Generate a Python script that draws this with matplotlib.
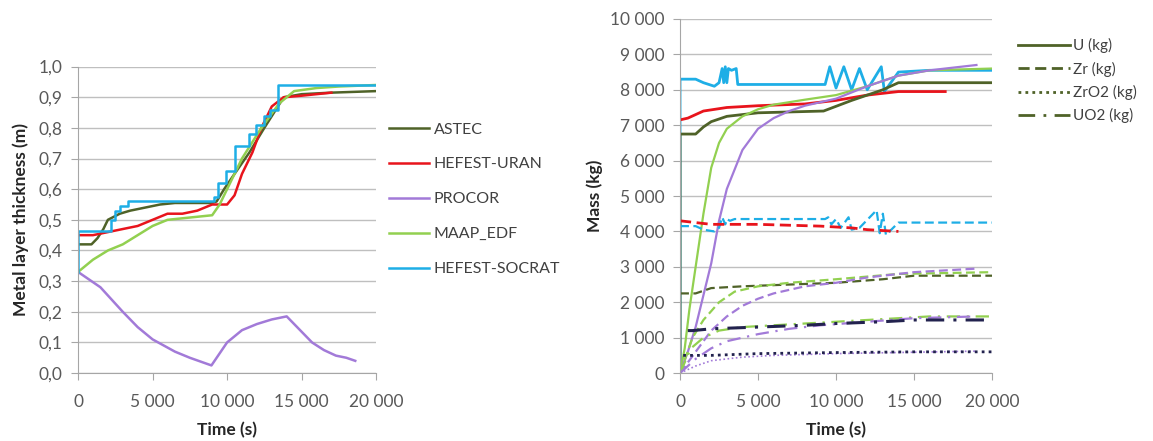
import matplotlib.pyplot as plt
from matplotlib.lines import Line2D
from matplotlib.ticker import FuncFormatter, MultipleLocator

plt.rcParams['font.family'] = ['Lato', 'DejaVu Sans']

# couleurs des codes
codes = ['ASTEC', 'HEFEST-URAN', 'PROCOR', 'MAAP_EDF', 'HEFEST-SOCRAT']
colors = {'ASTEC': '#4F6228', 'HEFEST-URAN': '#E8141C', 'PROCOR': '#A27AD8',
          'MAAP_EDF': '#92D050', 'HEFEST-SOCRAT': '#1EAEE6'}
navy = '#22224E'

# --- épaisseur de la couche métallique (m) ---
astec_t = [0, 900, 1300, 1700, 2000, 2400, 2800, 3500, 4500, 5500, 6500, 9000, 9300, 9800,
           10500, 11500, 12500, 13800, 15000, 17000, 20000]
astec_h = [0.42, 0.42, 0.44, 0.47, 0.50, 0.51, 0.52, 0.53, 0.54, 0.55, 0.555, 0.555, 0.56, 0.60,
           0.65, 0.72, 0.80, 0.90, 0.91, 0.915, 0.92]
uran_t = [0, 1000, 2000, 3000, 4000, 5000, 6000, 7000, 8000, 9000, 10000, 10500, 11000, 11700,
          12300, 13000, 13800, 15000, 16000, 17000]
uran_h = [0.45, 0.45, 0.46, 0.47, 0.48, 0.50, 0.52, 0.52, 0.53, 0.55, 0.55, 0.58, 0.65, 0.72,
          0.80, 0.87, 0.90, 0.905, 0.91, 0.915]
procor_t = [0, 1500, 3000, 4000, 5000, 6500, 7500, 8950, 10000, 11000, 12000, 13000, 14000,
            15000, 15700, 16500, 17300, 18000, 18600]
procor_h = [0.33, 0.28, 0.20, 0.15, 0.11, 0.07, 0.05, 0.025, 0.10, 0.14, 0.16, 0.175, 0.185,
            0.135, 0.10, 0.075, 0.057, 0.05, 0.04]
maap_t = [0, 1000, 2000, 3000, 4000, 5000, 6000, 7000, 8000, 9000, 9500, 10000, 11000, 12300,
          13500, 14500, 16000, 17500, 20000]
maap_h = [0.33, 0.37, 0.40, 0.42, 0.45, 0.48, 0.50, 0.505, 0.51, 0.515, 0.55, 0.60, 0.70, 0.80,
          0.88, 0.92, 0.93, 0.935, 0.94]
socrat_t = [0, 0, 2200, 2500, 2800, 3350, 9100, 9400, 9900, 10550, 11450, 11950, 12450, 12900,
            13450, 20000]
socrat_h = [0.33, 0.465, 0.50, 0.53, 0.545, 0.56, 0.575, 0.62, 0.66, 0.74, 0.78, 0.81, 0.84,
            0.86, 0.94, 0.94]

# --- masses (kg) ---
u_socrat_t = [0, 0, 1000, 1500, 2200, 2500, 2700, 2800, 2900, 3000, 3100, 3300, 3600, 3700,
              9300, 9600, 10000, 10500, 11000, 11500, 12000, 12900, 13100, 14000, 16000, 20000]
u_socrat_m = [0, 8300, 8300, 8200, 8100, 8200, 8600, 8200, 8650, 8200, 8600, 8550, 8600, 8150,
              8150, 8650, 8050, 8650, 8000, 8600, 8000, 8650, 7950, 8500, 8550, 8550]
u_uran_t = [0, 500, 1000, 1500, 3000, 5000, 8000, 10000, 12000, 14000, 17000]
u_uran_m = [7150, 7200, 7300, 7400, 7500, 7550, 7600, 7700, 7850, 7950, 7950]
u_astec_t = [0, 0, 1000, 1500, 2000, 3000, 5000, 9200, 11000, 13000, 14000, 20000]
u_astec_m = [0, 6750, 6750, 6950, 7100, 7250, 7350, 7400, 7700, 8000, 8200, 8200]
u_maap_t = [0, 300, 600, 1000, 1500, 2000, 2500, 3000, 4000, 5000, 6000, 8000, 10000, 12000,
            14000, 16000, 20000]
u_maap_m = [0, 700, 1800, 3000, 4500, 5800, 6500, 6900, 7250, 7450, 7580, 7720, 7850, 8100,
            8400, 8550, 8600]
u_procor_t = [0, 500, 1000, 1500, 2000, 2500, 3000, 4000, 5000, 6000, 7000, 8000, 9000, 10000,
              12000, 14000, 16000, 19000]
u_procor_m = [0, 600, 1300, 2200, 3100, 4300, 5200, 6300, 6900, 7200, 7400, 7550, 7650, 7750,
              8100, 8400, 8550, 8700]

zr_socrat_t = [0, 1000, 1500, 2200, 2500, 2700, 2900, 3000, 3200, 3500, 9300, 9500, 9700, 10000,
               10300, 10800, 11000, 11500, 12600, 12800, 13000, 13200, 14000, 20000]
zr_socrat_m = [4150, 4150, 4050, 4000, 4100, 4400, 4200, 4350, 4300, 4350, 4350, 4400, 4200, 4350,
               4100, 4400, 4050, 4100, 4600, 3950, 4500, 3900, 4250, 4250]
zr_uran_t = [0, 1000, 2000, 5000, 9000, 11000, 12000, 14000]
zr_uran_m = [4300, 4250, 4200, 4200, 4150, 4100, 4050, 4000]
zr_astec_t = [0, 1000, 2000, 4000, 7000, 10000, 13000, 15000, 20000]
zr_astec_m = [2250, 2250, 2400, 2450, 2500, 2550, 2650, 2750, 2750]
zr_maap_t = [0, 800, 1500, 2500, 3500, 5000, 7000, 10000, 14000, 20000]
zr_maap_m = [0, 1000, 1500, 2000, 2300, 2450, 2550, 2650, 2800, 2850]
zr_procor_t = [0, 1000, 2000, 3000, 4000, 5000, 6000, 8000, 10000, 12000, 15000, 19000]
zr_procor_m = [0, 600, 1200, 1600, 1900, 2100, 2250, 2450, 2550, 2700, 2850, 2950]

uo2_navy_t = [500, 800, 2000, 5000, 8000, 10000, 13000, 15000, 20000]
uo2_navy_m = [1200, 1200, 1250, 1300, 1350, 1400, 1450, 1500, 1500]
uo2_maap_t = [0, 700, 1500, 2500, 4000, 8000, 12000, 16000, 20000]
uo2_maap_m = [0, 700, 1000, 1200, 1300, 1400, 1500, 1600, 1600]
uo2_procor_t = [0, 1000, 2000, 3000, 5000, 7000, 9000, 12000, 15000, 19000]
uo2_procor_m = [0, 400, 700, 900, 1100, 1250, 1350, 1450, 1550, 1600]

zro2_navy_t = [200, 2000, 5000, 10000, 15000, 20000]
zro2_navy_m = [500, 500, 550, 580, 600, 600]
zro2_procor_t = [0, 1000, 2000, 4000, 6000, 10000, 19000]
zro2_procor_m = [0, 200, 350, 450, 500, 550, 620]

dashed = (0, (4, 2))
dotted = (0, (1, 1.5))
dashdot = (0, (6, 3, 1, 3))


def space_thousands(x, pos):
    return f'{int(round(x)):,}'.replace(',', ' ')


def style_axes(ax):
    ax.spines['top'].set_visible(False)
    ax.spines['right'].set_visible(False)
    for s in ['left', 'bottom']:
        ax.spines[s].set_color('#A6A6A6')
    ax.grid(axis='y', color='#BFBFBF', linewidth=1)
    ax.set_axisbelow(True)
    ax.tick_params(axis='both', colors='#A6A6A6', labelcolor='#595959', labelsize=12.5,
                   length=5, direction='out')
    ax.tick_params(axis='x', pad=10)
    ax.tick_params(axis='y', pad=6)
    ax.set_xlim(0, 20000)
    ax.xaxis.set_major_locator(MultipleLocator(5000))
    ax.xaxis.set_major_formatter(FuncFormatter(space_thousands))
    ax.set_xlabel('Time (s)', fontsize=12.5, fontweight='bold', color='#262626', labelpad=9)


fig = plt.figure(figsize=(11.53, 4.41), dpi=100)

# graphique de gauche
ax1 = fig.add_axes([0.0677, 0.154, 0.2585, 0.695])
lw = 1.8
ax1.plot(astec_t, astec_h, color=colors['ASTEC'], lw=lw, label='ASTEC')
ax1.plot(uran_t, uran_h, color=colors['HEFEST-URAN'], lw=lw, label='HEFEST-URAN')
ax1.plot(procor_t, procor_h, color=colors['PROCOR'], lw=lw, label='PROCOR')
ax1.plot(maap_t, maap_h, color=colors['MAAP_EDF'], lw=lw, label='MAAP_EDF')
ax1.plot(socrat_t, socrat_h, color=colors['HEFEST-SOCRAT'], lw=lw, drawstyle='steps-post',
         label='HEFEST-SOCRAT')
style_axes(ax1)
ax1.set_ylim(0, 1.0)
ax1.yaxis.set_major_locator(MultipleLocator(0.1))
ax1.yaxis.set_major_formatter(FuncFormatter(lambda y, p: f'{y:.1f}'.replace('.', ',')))
ax1.set_ylabel('Metal layer thickness (m)', fontsize=12.5, fontweight='bold', color='#262626',
               labelpad=7)
ax1.legend(loc='upper left', bbox_to_anchor=(0.995, 0.865), frameon=False, fontsize=11.5,
           handlelength=2.5, labelspacing=1.3, handletextpad=0.3, labelcolor='#404040')

# graphique de droite
ax2 = fig.add_axes([0.5898, 0.154, 0.2706, 0.803])
lw2 = 1.6
ax2.plot(u_socrat_t, u_socrat_m, color=colors['HEFEST-SOCRAT'], lw=2)
ax2.plot(u_uran_t, u_uran_m, color=colors['HEFEST-URAN'], lw=2)
ax2.plot(u_astec_t, u_astec_m, color=colors['ASTEC'], lw=2)
ax2.plot(u_maap_t, u_maap_m, color=colors['MAAP_EDF'], lw=lw2)
ax2.plot(u_procor_t, u_procor_m, color=colors['PROCOR'], lw=lw2)

ax2.plot(zr_socrat_t, zr_socrat_m, color=colors['HEFEST-SOCRAT'], lw=lw2, ls=dashed)
ax2.plot(zr_uran_t, zr_uran_m, color=colors['HEFEST-URAN'], lw=2, ls=dashed)
ax2.plot(zr_astec_t, zr_astec_m, color=colors['ASTEC'], lw=lw2, ls=dashed)
ax2.plot(zr_maap_t, zr_maap_m, color=colors['MAAP_EDF'], lw=lw2, ls=dashed)
ax2.plot(zr_procor_t, zr_procor_m, color=colors['PROCOR'], lw=lw2, ls=dashed)

ax2.plot(uo2_maap_t, uo2_maap_m, color=colors['MAAP_EDF'], lw=lw2, ls=dashdot)
ax2.plot(uo2_procor_t, uo2_procor_m, color=colors['PROCOR'], lw=lw2, ls=dashdot)
ax2.plot(uo2_navy_t, uo2_navy_m, color=navy, lw=2.2, ls=dashdot)

ax2.plot(zro2_procor_t, zro2_procor_m, color=colors['PROCOR'], lw=1.2, ls=dotted)
ax2.plot(zro2_navy_t, zro2_navy_m, color=navy, lw=2, ls=dotted)

style_axes(ax2)
ax2.set_ylim(0, 10000)
ax2.yaxis.set_major_locator(MultipleLocator(1000))
ax2.yaxis.set_major_formatter(FuncFormatter(space_thousands))
ax2.set_ylabel('Mass (kg)', fontsize=12.5, fontweight='bold', color='#262626', labelpad=5)

species = ['U (kg)', 'Zr (kg)', 'ZrO2 (kg)', 'UO2 (kg)']
styles = ['-', dashed, dotted, dashdot]
handles = [Line2D([], [], color=colors['ASTEC'], lw=2, ls=s) for s in styles]
ax2.legend(handles, species, loc='upper left', bbox_to_anchor=(1.04, 0.985), frameon=False,
           fontsize=11, handlelength=3.4, labelspacing=0.55, handletextpad=0.2,
           labelcolor='#404040')

fig.savefig('out.png', dpi=100)
